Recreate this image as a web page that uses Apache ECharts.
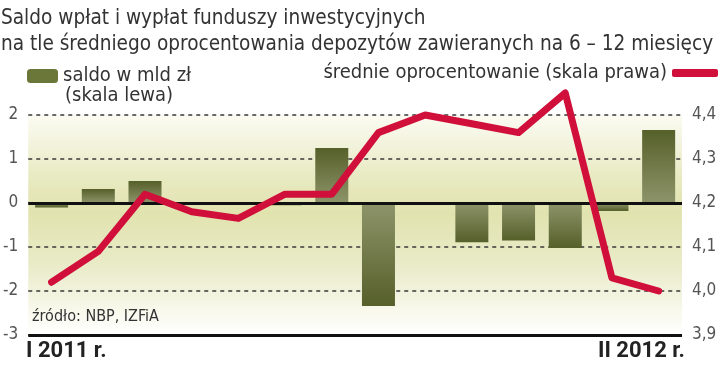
<!DOCTYPE html>
<html><head><meta charset="utf-8">
<script src="https://cdn.jsdelivr.net/npm/echarts@6/dist/echarts.min.js"></script>
<style>html,body{margin:0;padding:0;background:#fff}#c{width:720px;height:366px}</style>
</head><body><div id="c"></div>
<script>
const months = ['I 2011','II 2011','III 2011','IV 2011','V 2011','VI 2011','VII 2011','VIII 2011','IX 2011','X 2011','XI 2011','XII 2011','I 2012','II 2012'];
const saldo = [-0.1, 0.32, 0.5, -0.03, -0.03, -0.05, 1.25, -2.34, -0.02, -0.89, -0.85, -1.02, -0.18, 1.66];
const oprocentowanie = [4.02, 4.09, 4.22, 4.18, 4.165, 4.22, 4.22, 4.36, 4.40, 4.38, 4.36, 4.45, 4.03, 4.00];
const leftTicks = {min: -3, max: 2, interval: 1};
const rightTicks = {min: 3.9, max: 4.4, interval: 0.1};
const xEndLabels = ['I 2011 r.', 'II 2012 r.'];
const titleLines = ['Saldo wpłat i wypłat funduszy inwestycyjnych', 'na tle średniego oprocentowania depozytów zawieranych na 6 – 12 miesięcy'];
const sourceText = 'źródło: NBP, IZFiA';
const barName = 'saldo w mld zł';
const barNote = '(skala lewa)';
const lineName = 'średnie oprocentowanie (skala prawa)';

const NARROW = '"Liberation Sans Narrow", "DejaVu Sans Condensed", "Roboto", sans-serif';
const dark = '#56602a', light = '#8e946a';
function barColor(v) {
  return {
    type: 'linear', x: 0, y: 0, x2: 0, y2: 1,
    colorStops: v >= 0 ? [{offset: 0, color: dark}, {offset: 1, color: light}]
                       : [{offset: 0, color: light}, {offset: 1, color: dark}]
  };
}
const chart = echarts.init(document.getElementById('c'), null, {renderer: 'canvas'});
chart.setOption({
  animation: false,
  backgroundColor: '#ffffff',
  title: {
    text: titleLines.join('\n'), left: 1, top: 0, padding: [6, 0, 0, 0],
    textStyle: {fontFamily: NARROW, fontSize: 20.6, fontWeight: 'normal', color: '#333', lineHeight: 26}
  },
  legend: [{
    data: [barName], left: 27, top: 66, padding: 0, icon: 'roundRect', itemWidth: 31, itemHeight: 14, itemGap: 6,
    textStyle: {fontFamily: NARROW, fontSize: 20, color: '#333'},
    itemStyle: {color: '#6b7738'}
  }, {
    data: [lineName], right: 2, top: 63, padding: 0, icon: 'roundRect', itemWidth: 46, itemHeight: 8, align: 'right', itemGap: 5,
    textStyle: {fontFamily: NARROW, fontSize: 20, color: '#333'},
    itemStyle: {color: '#d0103a'}, lineStyle: {width: 0}
  }],
  grid: {left: 26, right: 38, top: 115, bottom: 31, show: true, borderWidth: 0,
    backgroundColor: {type: 'linear', x: 0, y: 0, x2: 0, y2: 1, colorStops: [
      {offset: 0, color: '#fbfbf3'}, {offset: 0.3, color: '#e7e9bf'}, {offset: 0.45, color: '#e1e3af'},
      {offset: 0.7, color: '#eaeccb'}, {offset: 0.9, color: '#f9f9ee'}, {offset: 1, color: '#ffffff'}]}
  },
  xAxis: {
    type: 'category', data: months, boundaryGap: true,
    axisLine: {show: false}, axisTick: {show: false}, axisLabel: {show: false}, splitLine: {show: false}
  },
  yAxis: [{
    type: 'value', min: leftTicks.min, max: leftTicks.max, interval: leftTicks.interval,
    axisLine: {show: false}, axisTick: {show: false},
    axisLabel: {fontFamily: NARROW, fontSize: 17, color: '#555', margin: 10},
    splitLine: {show: true, lineStyle: {color: '#3a3a3a', type: [4, 4], width: 1.5}}
  }, {
    type: 'value', min: rightTicks.min, max: rightTicks.max, interval: rightTicks.interval,
    axisLine: {show: false}, axisTick: {show: false},
    axisLabel: {fontFamily: NARROW, fontSize: 17, color: '#555', margin: 10,
      formatter: v => v.toFixed(1).replace('.', ',')},
    splitLine: {show: false}
  }],
  series: [{
    name: barName, type: 'bar', yAxisIndex: 0, barWidth: 33, z: 3,
    data: saldo.map(v => ({value: v, itemStyle: {color: barColor(v)}})),
    markLine: {
      silent: true, symbol: 'none', z: 4, label: {show: false},
      lineStyle: {color: '#111', width: 3, type: 'solid'},
      data: [{yAxis: 0}, {yAxis: leftTicks.min}]
    }
  }, {
    name: lineName, type: 'line', yAxisIndex: 1, data: oprocentowanie, clip: false, z: 5,
    showSymbol: false, symbol: 'none',
    lineStyle: {color: '#d0103a', width: 7, join: 'round', cap: 'round'},
    itemStyle: {color: '#d0103a'}
  }],
  graphic: [
    {type: 'text', left: 65, top: 86, z: 10, style: {text: barNote, fontFamily: NARROW, fontSize: 20, fill: '#333'}},
    {type: 'text', left: 32, top: 309, z: 10, style: {text: sourceText, fontFamily: NARROW, fontSize: 16, fill: '#333'}},
    {type: 'text', left: 26, top: 340, z: 10, style: {text: xEndLabels[0], fontFamily: 'Roboto, sans-serif', fontWeight: 'bold', fontSize: 22, fill: '#222'}},
    {type: 'text', right: 35, top: 340, z: 10, style: {text: xEndLabels[1], fontFamily: 'Roboto, sans-serif', fontWeight: 'bold', fontSize: 22, fill: '#222'}}
  ]
});
</script></body></html>
